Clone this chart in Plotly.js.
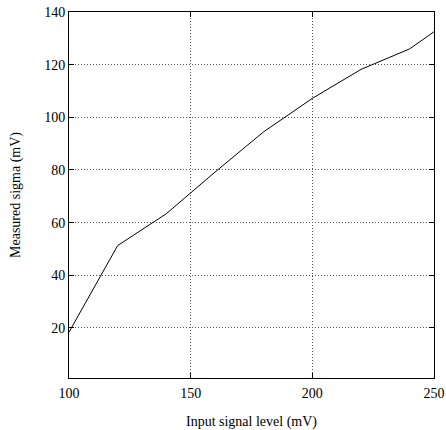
<!DOCTYPE html>
<html>
<head>
<meta charset="utf-8">
<script src="https://cdn.plot.ly/plotly-3.0.1.min.js"></script>
<style>html,body{margin:0;padding:0;background:#fff;}</style>
</head>
<body>
<div id="chart" style="width:446px;height:430px;"></div>
<script>
const inputLevel = [100, 120, 140, 160, 180, 200, 220, 240, 250];
const measuredSigma = [18.4, 51.3, 63.4, 79.2, 94.5, 107.2, 118.2, 126.0, 132.5];
const xTicks = [100, 150, 200, 250];
const yTicks = [20, 40, 60, 80, 100, 120, 140];

const font = {family: 'Liberation Serif, Times New Roman, Times, serif', size: 14, color: '#000'};
const axisCommon = {
  showline: true, mirror: 'ticks', linecolor: '#000', linewidth: 1,
  ticks: 'inside', ticklen: 5, tickcolor: '#000', tickwidth: 1,
  showgrid: true, gridcolor: '#555', griddash: '1px,2px', gridwidth: 1,
  zeroline: false, tickfont: font
};

Plotly.newPlot('chart', [{
  x: inputLevel, y: measuredSigma, type: 'scatter', mode: 'lines',
  line: {color: '#000', width: 1}
}], {
  width: 446, height: 430,
  margin: {l: 69, r: 12, t: 12, b: 52},
  paper_bgcolor: '#fff', plot_bgcolor: '#fff',
  showlegend: false,
  font: font,
  xaxis: Object.assign({}, axisCommon, {
    range: [100, 250], tickvals: xTicks, ticklabelstandoff: 2,
    title: {text: 'Input signal level (mV)', font: font, standoff: 16}
  }),
  yaxis: Object.assign({}, axisCommon, {
    range: [1, 140], tickvals: yTicks,
    title: {text: 'Measured sigma (mV)', font: font, standoff: 20}
  })
}, {displayModeBar: false, staticPlot: true});
</script>
</body>
</html>
